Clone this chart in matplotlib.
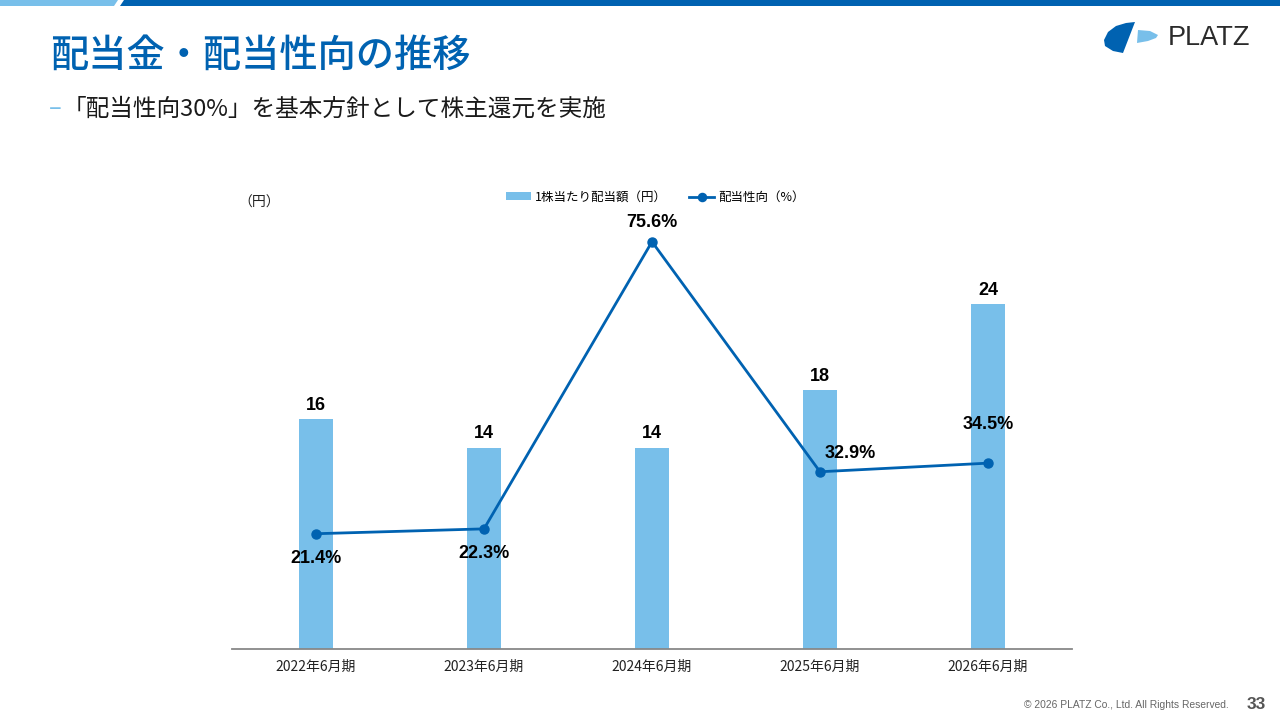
import numpy as np
import matplotlib.pyplot as plt
from matplotlib.patches import Polygon

plt.rcParams['font.family'] = ['Noto Sans CJK JP', 'DejaVu Sans']

# --- datos ---
periodos = ['2022年6月期', '2023年6月期', '2024年6月期', '2025年6月期', '2026年6月期']
dividendo = [16, 14, 14, 18, 24]
payout = [21.4, 22.3, 75.6, 32.9, 34.5]
payout_txt = ['21.4%', '22.3%', '75.6%', '32.9%', '34.5%']

AZUL = '#0062B1'
CELESTE = '#78BFEA'
ARIAL = ['Liberation Sans', 'DejaVu Sans']

fig = plt.figure(figsize=(12.8, 7.2), dpi=100)

# capa de decoracion en pixeles (banda, logo)
deco = fig.add_axes([0, 0, 1, 1])
deco.set_xlim(0, 1280)
deco.set_ylim(720, 0)
deco.axis('off')
deco.add_patch(Polygon([[0, 0], [118, 0], [114, 6], [0, 6]], closed=True, color=CELESTE, lw=0))
deco.add_patch(Polygon([[124, 0], [1280, 0], [1280, 6], [120, 6]], closed=True, color=AZUL, lw=0))
deco.add_patch(Polygon([[1135, 22], [1123, 53], [1113, 51], [1105, 46], [1104, 40],
                        [1108, 32], [1116, 26], [1126, 23]], closed=True, color=AZUL, lw=0))
deco.add_patch(Polygon([[1138, 30], [1137, 43], [1148, 41], [1156, 38], [1158, 35],
                        [1150, 31]], closed=True, color=CELESTE, lw=0))
deco.text(1209, 38, 'PLATZ', fontsize=19.5, color='#2b2b2b', ha='center', va='center',
          family=ARIAL)

# titulo y subtitulo
fig.text(0.039, 0.922, '配当金・配当性向の推移', fontsize=27.5, fontweight='medium',
         color=AZUL, va='center', ha='left')
fig.text(0.038, 0.849, '–', fontsize=17, color=CELESTE, va='center', ha='left')
fig.text(0.049, 0.849, '「配当性向30%」を基本方針として株主還元を実施', fontsize=17,
         color='#1a1a1a', va='center', ha='left')

# grafico
ax = fig.add_axes([0.18125, 0.0986, 0.65625, 0.5986])
ax2 = ax.twinx()
x = np.arange(len(periodos))

ax.bar(x, dividendo, width=0.2, color=CELESTE, label='1株当たり配当額（円）', zorder=2)
ax.set_xlim(-0.5, 4.5)
ax.set_ylim(0, 30)
ax2.set_ylim(0, 80)
for i, v in enumerate(dividendo):
    ax.annotate(str(v), (x[i], v), xytext=(0, 10), textcoords='offset points',
                ha='center', va='center', fontsize=13, fontweight='bold', family=ARIAL)

ax2.plot(x, payout, color=AZUL, lw=2, marker='o', ms=6.5, label='配当性向（%）', zorder=3)

offs = [(0, -18), (0, -17.5), (0, 14), (22, 13), (0, 28)]
for i, t in enumerate(payout_txt):
    ax2.annotate(t, (x[i], payout[i]), xytext=offs[i], textcoords='offset points',
                 ha='center', va='center', fontsize=13, fontweight='bold', family=ARIAL)

for s in ['top', 'left', 'right']:
    ax.spines[s].set_visible(False)
    ax2.spines[s].set_visible(False)
ax2.spines['bottom'].set_visible(False)
ax.spines['bottom'].set_color('#888888')
ax.spines['bottom'].set_linewidth(1.3)
ax.set_yticks([])
ax2.set_yticks([])
ax.set_xticks(x)
ax.set_xticklabels(periodos, fontsize=10, color='#222222')
ax.tick_params(axis='x', length=0, pad=8)

fig.text(0.186, 0.719, '（円）', fontsize=10, color='#222222', va='center', ha='left')

h1, l1 = ax.get_legend_handles_labels()
h2, l2 = ax2.get_legend_handles_labels()
fig.legend(h1 + h2, l1 + l2, loc='center', bbox_to_anchor=(0.512, 0.726), ncol=2,
           frameon=False, fontsize=9, handlelength=2.0, handleheight=0.6,
           columnspacing=1.75, handletextpad=0.3, markerscale=0.9)

# pie de pagina
fig.text(0.960, 0.021, '© 2026 PLATZ Co., Ltd. All Rights Reserved.', fontsize=7.4,
         color='#666666', ha='right', va='center', family=ARIAL)
fig.text(0.989, 0.022, '33', fontsize=12.5, fontweight='bold', color='#555555',
         ha='right', va='center', family=ARIAL)

fig.savefig('out.png', dpi=100)
